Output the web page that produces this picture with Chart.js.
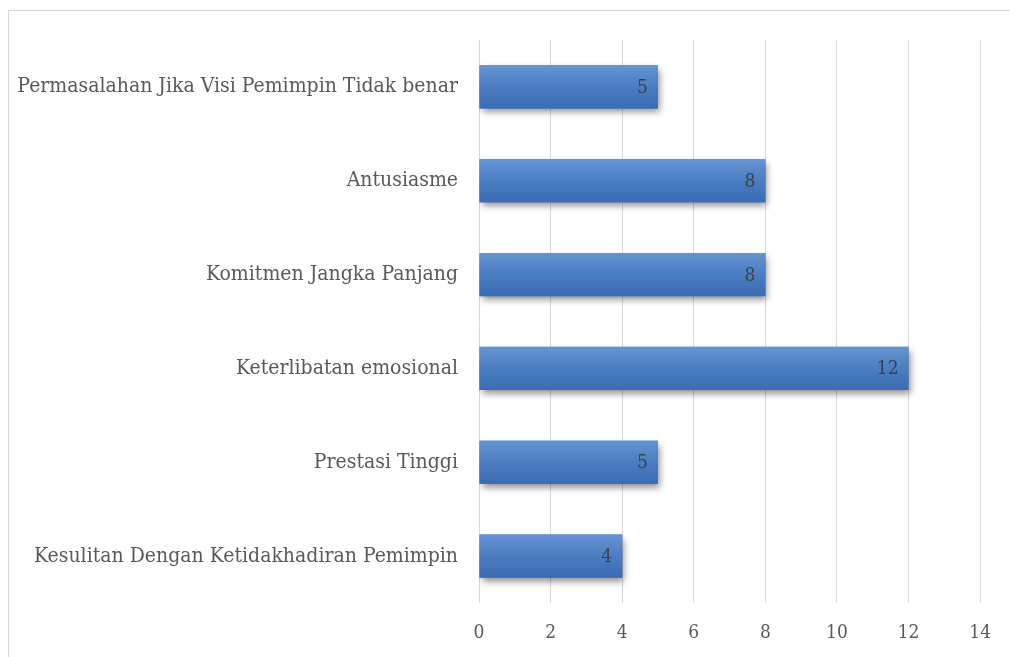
<!DOCTYPE html>
<html>
<head>
<meta charset="utf-8">
<script src="https://cdn.jsdelivr.net/npm/chart.js@4/dist/chart.umd.min.js"></script>
<style>
  body { margin: 0; background: #fff; }
  #wrap { position: relative; width: 1010px; height: 657px; }
  #frame { position: absolute; left: 8px; top: 10px; width: 1010px; height: 660px;
           border-top: 1px solid #d9d9d9; border-left: 1px solid #d9d9d9; }
  canvas { position: absolute; left: 0; top: 0; }
</style>
</head>
<body>
<div id="wrap">
  <div id="frame"></div>
  <canvas id="barchart" width="1010" height="657"></canvas>
</div>
<script>
const categories = [
  'Permasalahan Jika Visi Pemimpin Tidak benar',
  'Antusiasme',
  'Komitmen Jangka Panjang',
  'Keterlibatan emosional',
  'Prestasi Tinggi',
  'Kesulitan Dengan Ketidakhadiran Pemimpin'
];
const values = [5, 8, 8, 12, 5, 4];
const xTicks = [0, 2, 4, 6, 8, 10, 12, 14];

const FONT = '"DejaVu Serif Condensed", "DejaVu Serif", serif';

// shadow + gradient + value labels
const barStyle = {
  id: 'barStyle',
  beforeDatasetsDraw(chart) {
    const c = chart.ctx;
    c.save();
    c.shadowColor = 'rgba(0,0,0,0.45)';
    c.shadowBlur = 7;
    c.shadowOffsetX = 2;
    c.shadowOffsetY = 4;
  },
  afterDatasetsDraw(chart) {
    const c = chart.ctx;
    c.restore();
    const meta = chart.getDatasetMeta(0);
    c.save();
    meta.data.forEach((bar, i) => {
      const top = bar.y - bar.height / 2;
      const g = c.createLinearGradient(0, top, 0, top + bar.height);
      g.addColorStop(0, '#6694d2');
      g.addColorStop(0.5, '#4a7dc2');
      g.addColorStop(1, '#3b6cb3');
      c.fillStyle = g;
      c.fillRect(bar.base, top, bar.x - bar.base, bar.height);
      c.fillStyle = '#404040';
      c.font = '19px ' + FONT;
      c.textAlign = 'right';
      c.textBaseline = 'middle';
      c.fillText(String(values[i]), bar.x - 10, bar.y + 1);
    });
    c.restore();
  }
};

new Chart(document.getElementById('barchart'), {
  type: 'bar',
  data: {
    labels: categories,
    datasets: [{
      data: values,
      backgroundColor: '#4a7dc2',
      borderWidth: 0,
      categoryPercentage: 1,
      barPercentage: 0.46
    }]
  },
  plugins: [barStyle],
  options: {
    indexAxis: 'y',
    responsive: false,
    animation: false,
    layout: { padding: { left: 0, top: 40, right: 24, bottom: 0 } },
    plugins: { legend: { display: false }, tooltip: { enabled: false } },
    scales: {
      x: {
        min: 0, max: 14,
        afterBuildTicks: s => { s.ticks = xTicks.map(v => ({ value: v })); },
        afterFit: s => { s.height = 54; },
        grid: { color: '#d9d9d9', lineWidth: 1, drawTicks: false },
        border: { display: false },
        ticks: { color: '#595959', padding: 19, font: { family: FONT, size: 19 } }
      },
      y: {
        afterFit: s => { s.width = 479; },
        grid: { display: false },
        border: { display: false },
        ticks: { color: '#595959', padding: 13, font: { family: FONT, size: 21 } }
      }
    }
  }
});
</script>
</body>
</html>
